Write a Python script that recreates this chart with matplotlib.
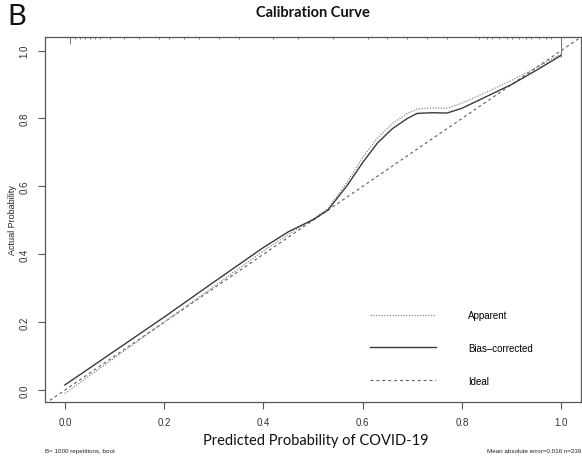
import matplotlib
matplotlib.use("Agg")
import matplotlib.pyplot as plt
from matplotlib.lines import Line2D

# ---- data ----
pred_x = [0.0, 0.1, 0.2, 0.3, 0.4, 0.45, 0.5, 0.53, 0.57, 0.6, 0.63, 0.66,
          0.69, 0.71, 0.74, 0.77, 0.8, 0.85, 0.9, 0.95, 1.0]
bias_corrected = [0.015, 0.115, 0.215, 0.318, 0.42, 0.466, 0.502, 0.53, 0.605,
                  0.67, 0.728, 0.77, 0.8, 0.815, 0.817, 0.816, 0.83, 0.865,
                  0.9, 0.942, 0.986]
apparent = [-0.01, 0.095, 0.2, 0.305, 0.41, 0.458, 0.503, 0.535, 0.615,
            0.685, 0.743, 0.785, 0.815, 0.828, 0.831, 0.83, 0.845, 0.878,
            0.912, 0.95, 0.99]
ideal = [-0.04, 1.04]

rug_x = [0.01, 0.02, 0.03, 0.04, 0.05, 0.06, 0.07, 0.09, 0.12, 0.15, 0.19,
         0.21, 0.24, 0.27, 0.31, 0.35, 0.42, 0.47, 0.54, 0.61, 0.65, 0.69,
         0.73, 0.77, 0.835, 0.85, 0.86, 0.875, 0.89, 0.90, 0.915, 0.93,
         0.94, 0.955, 0.97, 0.98, 1.0]
rug_h = [0.02] + [0.005] * 35 + [0.058]

xticks = [0.0, 0.2, 0.4, 0.6, 0.8, 1.0]
yticks = [0.0, 0.2, 0.4, 0.6, 0.8, 1.0]
tick_labels = ["0.0", "0.2", "0.4", "0.6", "0.8", "1.0"]

W, H = 582, 464
fig = plt.figure(figsize=(W / 100, H / 100), dpi=100)
ax = fig.add_axes([45 / W, 61 / H, 536 / W, 365 / H])
ax.set_xlim(-0.04, 1.04)
ax.set_ylim(-0.035, 1.04)

frame_col = "#555555"
for s in ax.spines.values():
    s.set_color(frame_col)
    s.set_linewidth(0.9)

ax.plot(ideal, ideal, color="#666666", lw=0.85, ls=(0, (2.5, 2.5)), label="Ideal")
ax.plot(pred_x, apparent, color="#8a8a8a", lw=0.9, ls=(0, (1, 1.2)), label="Apparent")
ax.plot(pred_x, bias_corrected, color="#3a3a3a", lw=1.0, ls="-", label="Bias\u2013corrected")
ax.vlines(rug_x, [1.04 - h for h in rug_h], 1.04, color="#777777", lw=0.7)

ax.set_xticks(xticks)
ax.set_xticklabels(tick_labels, fontsize=7, family="Liberation Sans", color="#333333")
ax.set_yticks(yticks)
ax.set_yticklabels(tick_labels, fontsize=7, family="Liberation Sans", color="#333333",
                   rotation=90, va="center")
ax.tick_params(direction="out", length=5, width=0.8, color=frame_col, pad=6)

handles = [
    Line2D([], [], color="#8a8a8a", lw=0.9, ls=(0, (1, 1.2))),
    Line2D([], [], color="#3a3a3a", lw=1.0, ls="-"),
    Line2D([], [], color="#666666", lw=0.85, ls=(0, (2.5, 2.5))),
]
ax.legend(handles, ["Apparent", "Bias\u2013corrected", "Ideal"],
          loc="upper left", bbox_to_anchor=((370 - 45) / 536, (403 - 311) / 365),
          frameon=False, prop={"family": "Liberation Sans", "size": 7},
          handlelength=6.8, handletextpad=3.3, labelspacing=2.35,
          borderpad=0, borderaxespad=0)

fig.text(8 / W, 1 - 220 / H, "Actual Probability", rotation=90, ha="left", va="center",
         fontsize=6.5, family="Liberation Sans", color="#222222")
fig.text(313 / W, 1 - 13 / H, "Calibration Curve", ha="center", va="center",
         fontsize=10.5, fontweight="bold", family="Lato", color="#111111")
fig.text(7 / W, 1 - 17 / H, "B", ha="left", va="center", fontsize=21,
         family="Lato", color="#111111")
fig.text(316 / W, 1 - 441 / H, "Predicted Probability of COVID-19", ha="center",
         va="center", fontsize=10.5, family="Lato", color="#111111")
fig.text(45 / W, 1 - 452 / H, "B= 1000 repetitions, boot", ha="left", va="center",
         fontsize=4.5, family="Liberation Sans", color="#222222")
fig.text(581 / W, 1 - 452 / H, "Mean absolute error=0.016 n=239", ha="right",
         va="center", fontsize=4.5, family="Liberation Sans", color="#222222")

fig.savefig("out.png", dpi=100)
